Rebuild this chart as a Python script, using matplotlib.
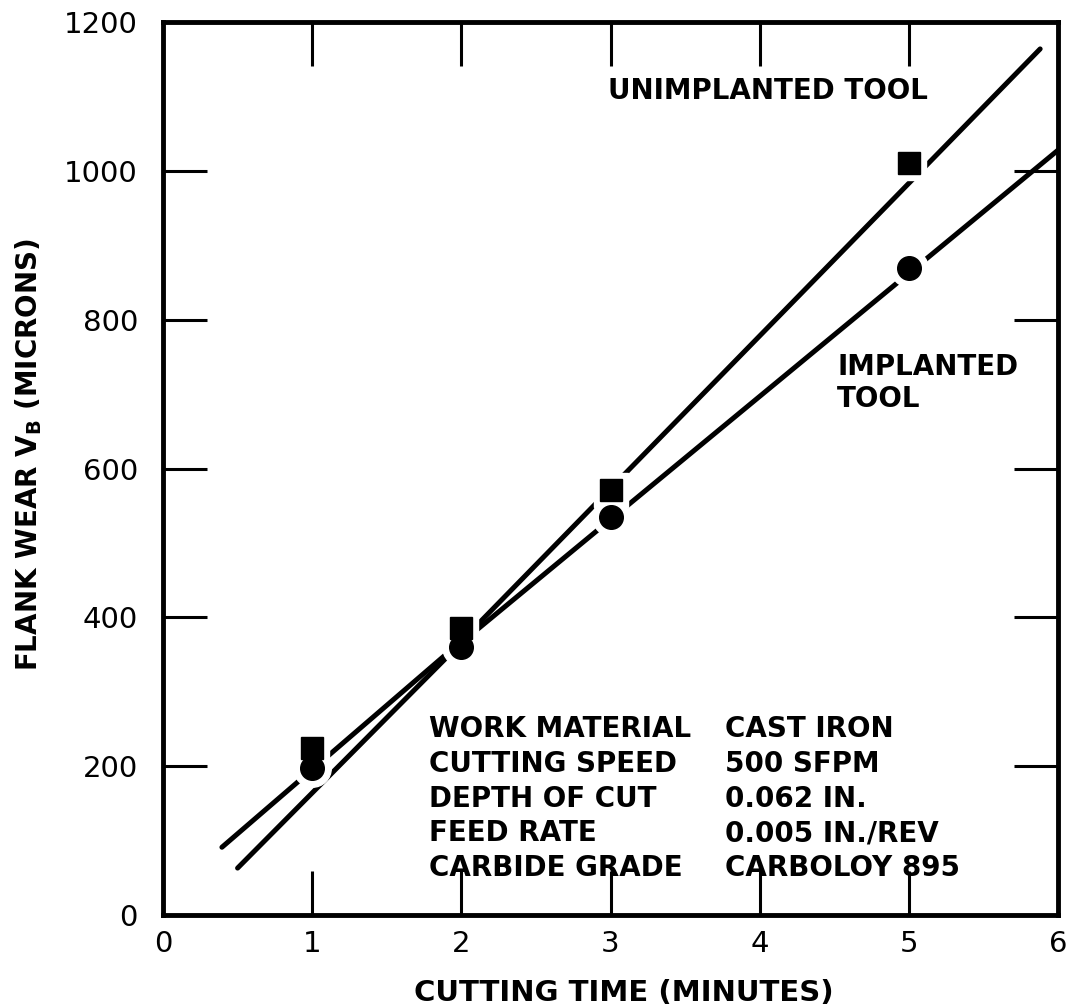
import matplotlib
matplotlib.use('Agg')
import matplotlib.pyplot as plt

plt.rcParams['font.family'] = ['DejaVu Sans']

# measured points
time_min = [1, 2, 3, 5]
wear_unimplanted = [224, 386, 571, 1011]
wear_implanted = [197, 360, 535, 870]

# hand-drawn lines through the data (vertices)
line_unimpl_x = [0.395, 2.0, 5.88]
line_unimpl_y = [91, 368, 1164]
line_impl_x = [0.50, 2.0, 6.0]
line_impl_y = [63, 366, 1028]

xticks = [0, 1, 2, 3, 4, 5, 6]
yticks = [0, 200, 400, 600, 800, 1000, 1200]

conditions = ['WORK MATERIAL', 'CUTTING SPEED', 'DEPTH OF CUT', 'FEED RATE', 'CARBIDE GRADE']
cond_values = ['CAST IRON', '500 SFPM', '0.062 IN.', '0.005 IN./REV', 'CARBOLOY 895']

fig = plt.figure(figsize=(10.78, 10.06), dpi=100)
ax = fig.add_axes([0.1512, 0.0905, 0.8303, 0.8875])

lw = 3.6
ax.plot(line_unimpl_x, line_unimpl_y, color='black', lw=lw, solid_capstyle='round',
        solid_joinstyle='round', zorder=2)
ax.plot(line_impl_x, line_impl_y, color='black', lw=lw, solid_capstyle='round',
        solid_joinstyle='round', zorder=2)

# white halos so the lines break around the markers
ax.plot(time_min, wear_unimplanted, 's', ms=25, color='white', mec='white', zorder=3)
ax.plot(time_min, wear_implanted, 'o', ms=27, color='white', mec='white', zorder=3)
ax.plot(time_min, wear_unimplanted, 's', ms=15.5, color='black', mec='black', zorder=4)
ax.plot(time_min, wear_implanted, 'o', ms=17, color='black', mec='black', zorder=4)

ax.set_xlim(0, 6)
ax.set_ylim(0, 1200)
ax.set_xticks(xticks)
ax.set_yticks(yticks)
ax.tick_params(direction='in', length=32, width=2.2, top=True, right=True,
               labelsize=21)
ax.tick_params(axis='y', pad=18)
ax.tick_params(axis='x', pad=11)
for s in ax.spines.values():
    s.set_linewidth(3.5)

ax.set_xlabel('CUTTING TIME (MINUTES)', fontsize=21, fontweight='bold')
ax.set_ylabel('FLANK WEAR V$_\\mathbf{B}$ (MICRONS)', fontsize=20, fontweight='bold')
ax.xaxis.set_label_coords(0.515, -0.072)
ax.yaxis.set_label_coords(-0.133, 0.516)

ax.text(4.055, 1108, 'UNIMPLANTED TOOL', fontsize=20, fontweight='bold',
        ha='center', va='center')
ax.text(4.52, 715, 'IMPLANTED\nTOOL', fontsize=20, fontweight='bold',
        ha='left', va='center', linespacing=1.15)

row_y = [250, 203, 156, 110, 63]
for name, val, yy in zip(conditions, cond_values, row_y):
    ax.text(1.78, yy, name, fontsize=20, fontweight='bold', ha='left', va='center')
    ax.text(3.77, yy, val, fontsize=20, fontweight='bold', ha='left', va='center')

fig.savefig('out.png', dpi=100)
